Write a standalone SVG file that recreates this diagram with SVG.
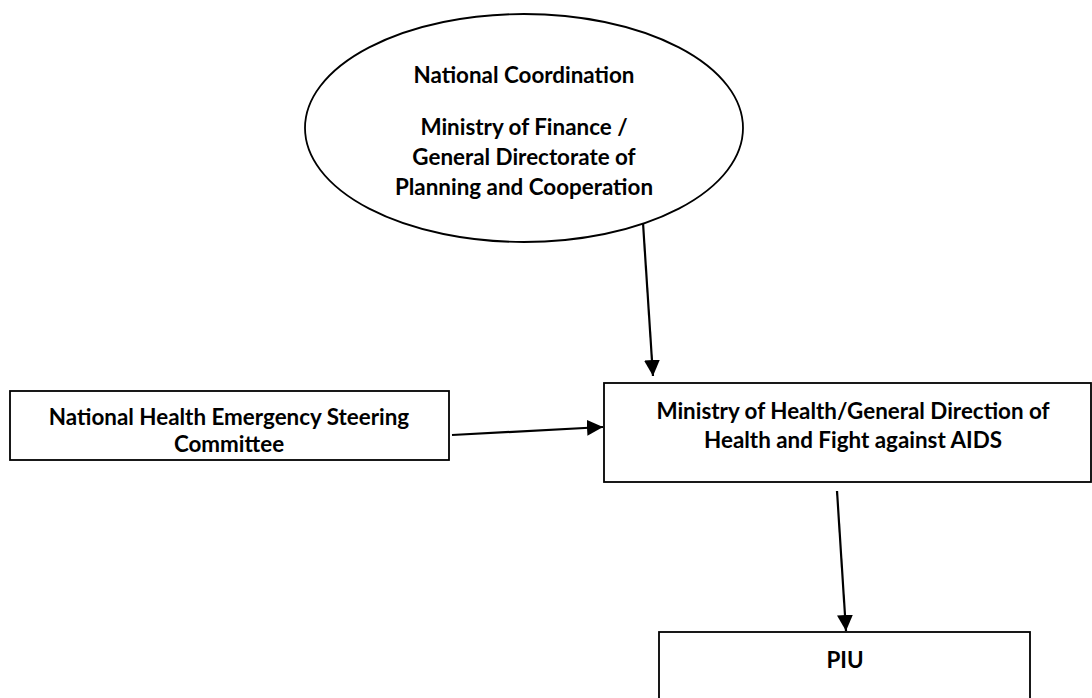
<svg xmlns="http://www.w3.org/2000/svg" width="1092" height="698" viewBox="0 0 1092 698">
  <style>
    .shape { fill: #ffffff; stroke: #000000; stroke-width: 1.8; }
    .label { font-family: Lato, "Open Sans", "Liberation Sans", sans-serif; font-weight: bold; font-size: 22.4px; fill: #000000; text-anchor: middle; }
    .conn { stroke: #000000; stroke-width: 2.2; fill: none; marker-end: url(#arrow); }
  </style>
  <defs>
    <marker id="arrow" markerUnits="userSpaceOnUse" markerWidth="16" markerHeight="16" viewBox="0 0 16 16" refX="16" refY="8" orient="auto">
      <path d="M0,0 L16,8 L0,16 Z" fill="#000000"/>
    </marker>
  </defs>

  <g id="national-coordination">
    <ellipse class="shape" cx="524" cy="128" rx="219" ry="114"/>
    <text class="label" x="524" y="83">National Coordination</text>
    <text class="label" x="524" y="135">Ministry of Finance /</text>
    <text class="label" x="524" y="165">General Directorate of</text>
    <text class="label" x="524" y="195">Planning and Cooperation</text>
  </g>

  <g id="steering-committee">
    <rect class="shape" x="10" y="391" width="439" height="69"/>
    <text class="label" x="229" y="425">National Health Emergency Steering</text>
    <text class="label" x="229" y="452">Committee</text>
  </g>

  <g id="ministry-of-health">
    <rect class="shape" x="604" y="383" width="487" height="99"/>
    <text class="label" x="853" y="419">Ministry of Health/General Direction of</text>
    <text class="label" x="853" y="448">Health and Fight against AIDS</text>
  </g>

  <g id="piu">
    <rect class="shape" x="659" y="632" width="371" height="80"/>
    <text class="label" x="845" y="668">PIU</text>
  </g>

  <g id="connectors">
    <line class="conn" x1="643" y1="223" x2="653" y2="376"/>
    <line class="conn" x1="452" y1="435" x2="603" y2="427"/>
    <line class="conn" x1="837" y1="491" x2="846" y2="631"/>
  </g>
</svg>
